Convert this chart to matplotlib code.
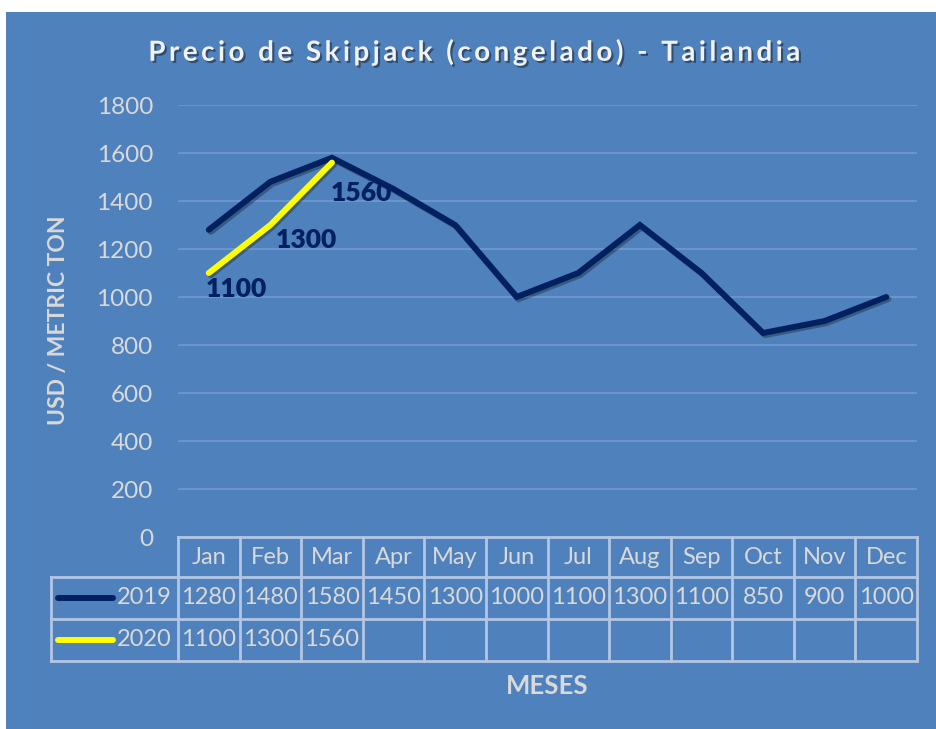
import numpy as np
import matplotlib.pyplot as plt
import matplotlib.patheffects as pe
from matplotlib.transforms import blended_transform_factory

months = ['Jan', 'Feb', 'Mar', 'Apr', 'May', 'Jun', 'Jul', 'Aug', 'Sep', 'Oct', 'Nov', 'Dec']
price_2019 = [1280, 1480, 1580, 1450, 1300, 1000, 1100, 1300, 1100, 850, 900, 1000]
price_2020 = [1100, 1300, 1560]
series_names = ['2019', '2020']
yticks = [0, 200, 400, 600, 800, 1000, 1200, 1400, 1600, 1800]

bg = '#4F81BD'
navy = '#002060'
yellow = '#FFFF00'
txt = '#D9D9D9'
grid = '#7099CF'
tline = '#B3C6E4'
font = ['Lato', 'DejaVu Sans']
plt.rcParams['font.family'] = font

W, H = 936, 729
fig = plt.figure(figsize=(W / 100, H / 100), dpi=100, facecolor='white')
# blue chart area (white strip on top and left like the screenshot)
fig.patches.append(plt.Rectangle((6 / W, 0), 1, 1 - 12 / H, transform=fig.transFigure,
                                 facecolor=bg, edgecolor='none', zorder=-10))

ax = fig.add_axes([178 / W, 192 / H, (917 - 178) / W, 432 / H])
ax.set_facecolor('none')
ax.set_xlim(0, 12)
ax.set_ylim(0, 1800)
ax.set_yticks(yticks)
ax.set_yticklabels([str(v) for v in yticks])
ax.tick_params(axis='y', length=0, pad=18, labelsize=17.5, labelcolor=txt)
ax.set_xticks([])
for s in ax.spines.values():
    s.set_visible(False)
for v in yticks[1:]:
    ax.axhline(v, color=grid, lw=1.2, zorder=1)

x = np.arange(12) + 0.5
ax.plot(x, price_2019, color=navy, lw=4.3, solid_capstyle='round', solid_joinstyle='miter', zorder=3,
        path_effects=[pe.SimpleLineShadow(offset=(1.5, -1.5), alpha=0.3), pe.Normal()])
ax.plot(x[:len(price_2020)], price_2020, color=yellow, lw=4.3, solid_capstyle='round', zorder=4,
        path_effects=[pe.SimpleLineShadow(offset=(1.5, -1.5), alpha=0.3), pe.Normal()])

label_offsets = [(-2, -3), (4, -2), (-1, -13)]
for xi, v, off in zip(x, price_2020, label_offsets):
    ax.annotate(str(v), (xi, v), xytext=off, textcoords='offset points', ha='left', va='top',
                color=navy, fontsize=19, fontweight='heavy', zorder=5)

# data table under the plot
tr = blended_transform_factory(ax.transData, ax.transAxes)
rows = [0, -40 / 432, -82 / 432, -124 / 432]
leg_left = (51 - 178) / ((917 - 178) / 12)
lkw = dict(color=tline, lw=2, transform=tr, clip_on=False, zorder=2)
ax.plot([0, 12], [rows[0], rows[0]], **lkw)
for r in rows[1:]:
    ax.plot([leg_left, 12], [r, r], **lkw)
for c in range(13):
    ax.plot([c, c], [rows[0], rows[3]], **lkw)
ax.plot([leg_left, leg_left], [rows[1], rows[3]], **lkw)

tkw = dict(transform=tr, ha='center', va='center', color=txt, fontsize=17, clip_on=False)
for i, m in enumerate(months):
    ax.text(i + 0.5, (rows[0] + rows[1]) / 2, m, **tkw)
for i, v in enumerate(price_2019):
    ax.text(i + 0.5, (rows[1] + rows[2]) / 2, str(v), **tkw)
for i, v in enumerate(price_2020):
    ax.text(i + 0.5, (rows[2] + rows[3]) / 2, str(v), **tkw)

for k, (name, col) in enumerate(zip(series_names, [navy, yellow])):
    yc = (rows[k + 1] + rows[k + 2]) / 2
    ax.plot([leg_left + 0.12, leg_left + 1.0], [yc, yc], color=col, lw=4.3, solid_capstyle='round',
            transform=tr, clip_on=False, zorder=3)
    ax.text(-0.1, yc, name, transform=tr, ha='right', va='center', color=txt, fontsize=17,
            clip_on=False)

ax.text(6, -0.345, 'MESES', transform=tr, ha='center', va='center', color=txt, fontsize=18.5,
        fontweight='bold', clip_on=False)
fig.text(58 / W, 1 - 320 / H, 'USD / METRIC TON', rotation=90, ha='center', va='center',
         color=txt, fontsize=16.5, fontweight='bold')

title = 'Precio de Skipjack (congelado) - Tailandia'
fig.text(475 / W, 1 - 52 / H, '\u2009'.join(title), ha='center', va='center', color='#F2F2F2',
         fontsize=20, fontweight='bold', family=font,
         path_effects=[pe.withSimplePatchShadow(offset=(1.5, -1.5), shadow_rgbFace='black', alpha=0.4)])

fig.savefig('out.png', dpi=100, facecolor=fig.get_facecolor())
